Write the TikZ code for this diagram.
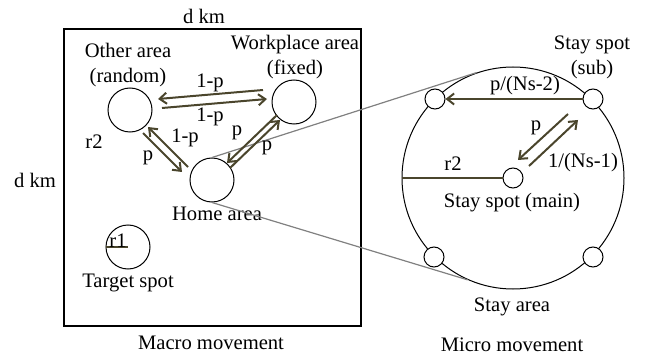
\documentclass[tikz,border=0pt]{standalone}
\usepackage{fontspec}
\setmainfont{Liberation Serif}
\usetikzlibrary{arrows.meta, calc}
\definecolor{flowolive}{RGB}{74, 69, 44}
\definecolor{zoomgray}{RGB}{128, 128, 128}

\tikzset{
  area/.style={draw, circle, minimum size=22pt, inner sep=0pt, line width=0.5pt},
  spot/.style={draw, circle, fill=white, minimum size=10pt, inner sep=0pt, line width=0.5pt},
  flow/.style={draw=flowolive, line width=1pt, -{Straight Barb[length=3.5pt, width=5.5pt]}},
  radius line/.style={draw=flowolive, line width=0.6pt},
  zoomline/.style={draw=zoomgray, line width=0.6pt},
  lbl/.style={inner sep=0pt, align=center}
}

\begin{document}
\begin{tikzpicture}[x=0.5pt, y=-0.5pt, font=\fontsize{10.3}{12.5}\selectfont]
  \useasboundingbox (0,0) rectangle (648,358);

  % macro movement
  \draw[line width=0.6pt] (64,29) rectangle (361,326);
  \node[lbl] (dtop) at (204,16) {d km};
  \node[lbl] (dleft) at (35,180) {d km};

  \node[area] (other) at (130,110) {};
  \node[area] (work) at (294,102) {};
  \node[area] (home) at (212,180) {};
  \node[area] (target) at (128,247) {};

  \node[lbl] (othertxt) at (128,65) {Other area\\(random)};
  \node[lbl] (worktxt) at (295,57) {Workplace area\\(fixed)};
  \node[lbl] (hometxt) at (217,214) {Home area};
  \node[lbl] (targettxt) at (128,283) {Target spot};
  \node[lbl] (macrotxt) at (211,343) {Macro movement};
  \node[lbl] (rtwo) at (94,142) {r2};

  \draw[radius line] (target.west) -- (target.center);
  \node[lbl] (rone) at (118,241) {r1};

  % micro movement
  \node[draw, circle, minimum size=111pt, inner sep=0pt, line width=0.5pt] (stay) at (513,178) {};

  % zoom lines
  \draw[zoomline] (home.north) -- (stay.109);
  \draw[zoomline] (home.south) -- (stay.246);

  \draw[flow] ($(work)+(-31,-12)$) -- ($(other)+(28,-11)$);
  \draw[flow] ($(other)+(32,-2)$) -- ($(work)+(-27,-3)$);
  \draw[flow] ($(home)+(-24,-13)$) -- ($(other)+(18,17)$);
  \draw[flow] ($(other)+(13,23)$) -- ($(home)+(-30,-8)$);
  \draw[flow] ($(work)+(-17,13)$) -- ($(home)+(15,-17)$);
  \draw[flow] ($(home)+(18,-12)$) -- ($(work)+(-14,18)$);

  \node[lbl] (pa) at (210,83) {1-p};
  \node[lbl] (pb) at (210,117) {1-p};
  \node[lbl] (pc) at (185,138) {1-p};
  \node[lbl] (pd) at (148,158) {p};
  \node[lbl] (pe) at (237,133) {p};
  \node[lbl] (pf) at (267,148) {p};

  \node[spot] (main) at (513,178) {};
  \node[spot] (subtl) at (435,99) {};
  \node[spot] (subtr) at (593,99) {};
  \node[spot] (subbl) at (434,257) {};
  \node[spot] (subbr) at (593,257) {};

  \draw[radius line] (stay.west) -- (main.west);
  \node[lbl] (rthree) at (453,164) {r2};

  \draw[flow] (subtr.west) -- (subtl.east);
  \draw[flow] ($(subtr)+(-25,15)$) -- ($(main)+(5,-18)$);
  \draw[flow] ($(main)+(16,-12)$) -- ($(subtr)+(-15,21)$);

  \node[lbl] (subtxt) at (592,57) {Stay spot\\(sub)};
  \node[lbl] (ptoall) at (525,86) {p/(Ns-2)};
  \node[lbl] (pback) at (536,128) {p};
  \node[lbl] (pout) at (583,163) {1/(Ns-1)};
  \node[lbl] (maintxt) at (512,203) {Stay spot (main)};
  \node[lbl] (staytxt) at (512,307) {Stay area};
  \node[lbl] (microtxt) at (512,345) {Micro movement};
\end{tikzpicture}
\end{document}
